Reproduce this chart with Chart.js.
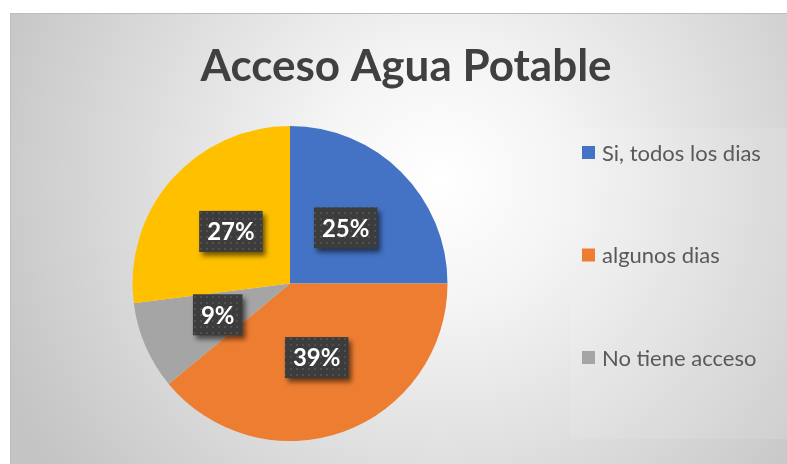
<!DOCTYPE html>
<html>
<head>
<meta charset="utf-8">
<script src="https://cdn.jsdelivr.net/npm/chart.js@4"></script>
<style>
  html, body { margin: 0; padding: 0; background: #fff; }
  canvas { display: block; }
</style>
</head>
<body>
<canvas id="chart-agua" width="787" height="464"></canvas>
<script>
const categories = ['Si, todos los dias', 'algunos dias', 'No tiene acceso', 'Otro']
const values = [25, 39, 9, 27]
const percentLabels = ['25%', '39%', '9%', '27%']
const sliceColors = ['#4472C4', '#ED7D31', '#A5A5A5', '#FFC000']
const legendShown = 3

const titleText = 'Acceso Agua Potable'

// dotted dark fill for the value boxes
const makeDots = () => {
  const c = document.createElement('canvas')
  c.width = 6
  c.height = 6
  const g = c.getContext('2d')
  g.fillStyle = '#3c3c3c'
  g.fillRect(0, 0, 6, 6)
  g.fillStyle = '#505050'
  g.fillRect(2, 2, 2, 2)
  return c
}

const backgroundPlugin = {
  id: 'background',
  beforeDraw(chart) {
    const ctx = chart.ctx
    ctx.save()
    ctx.fillStyle = '#fff'
    ctx.fillRect(0, 0, chart.width, chart.height)
    const grad = ctx.createRadialGradient(440, 180, 0, 440, 180, 480)
    grad.addColorStop(0, '#ffffff')
    grad.addColorStop(0.25, '#f5f5f5')
    grad.addColorStop(1, '#c4c4c4')
    ctx.fillStyle = grad
    ctx.fillRect(10, 13, chart.width - 10, chart.height - 13)
    // legend area
    ctx.fillStyle = 'rgba(255,255,255,0.1)'
    ctx.fillRect(570, 128, chart.width - 570, 311)
    ctx.strokeStyle = '#bdbdbd'
    ctx.lineWidth = 1
    ctx.beginPath()
    ctx.moveTo(10.5, chart.height)
    ctx.lineTo(10.5, 13.5)
    ctx.lineTo(chart.width, 13.5)
    ctx.stroke()
    // title
    ctx.fillStyle = '#404040'
    ctx.font = 'bold 44px Lato'
    ctx.textAlign = 'center'
    ctx.textBaseline = 'alphabetic'
    ctx.fillText(titleText, 406, 81)
    ctx.restore()
  }
}

const valueBoxPlugin = {
  id: 'valueBoxes',
  afterDatasetsDraw(chart) {
    const ctx = chart.ctx
    const pattern = ctx.createPattern(makeDots(), 'repeat')
    const meta = chart.getDatasetMeta(0)
    ctx.save()
    ctx.font = 'bold 24px Lato'
    meta.data.forEach((arc, i) => {
      const p = arc.tooltipPosition()
      const text = percentLabels[i]
      const w = ctx.measureText(text).width + 16
      const h = 41
      ctx.save()
      ctx.shadowColor = 'rgba(0,0,0,0.55)'
      ctx.shadowBlur = 5
      ctx.shadowOffsetX = 3
      ctx.shadowOffsetY = 4
      ctx.fillStyle = pattern
      ctx.fillRect(p.x - w / 2, p.y - h / 2, w, h)
      ctx.restore()
      ctx.fillStyle = '#ffffff'
      ctx.textAlign = 'center'
      ctx.textBaseline = 'middle'
      ctx.fillText(text, p.x, p.y + 1)
    })
    ctx.restore()
  }
}

const legendPlugin = {
  id: 'sideLegend',
  afterDraw(chart) {
    const ctx = chart.ctx
    const rows = [152.5, 255, 357.5]
    ctx.save()
    ctx.font = '22px Lato'
    ctx.textBaseline = 'middle'
    ctx.textAlign = 'left'
    for (let i = 0; i < legendShown; i++) {
      ctx.fillStyle = sliceColors[i]
      ctx.fillRect(582, rows[i] - 6.5, 13, 13)
      ctx.fillStyle = '#595959'
      ctx.fillText(chart.data.labels[i], 602, rows[i] + 1)
    }
    ctx.restore()
  }
}

const ctx = document.getElementById('chart-agua').getContext('2d')

const data = {
  labels: categories,
  datasets: [
    {
      data: values,
      backgroundColor: sliceColors,
      borderWidth: 0,
    },
  ],
}

const config = {
  type: 'pie',
  data: data,
  options: {
    responsive: false,
    animation: false,
    layout: {
      padding: { top: 126, bottom: 23, left: 81, right: 288 },
    },
    plugins: {
      legend: { display: false },
      title: { display: false },
      tooltip: { enabled: false },
    },
  },
  plugins: [backgroundPlugin, valueBoxPlugin, legendPlugin],
}

const myChart = new Chart(ctx, config)
</script>
</body>
</html>
